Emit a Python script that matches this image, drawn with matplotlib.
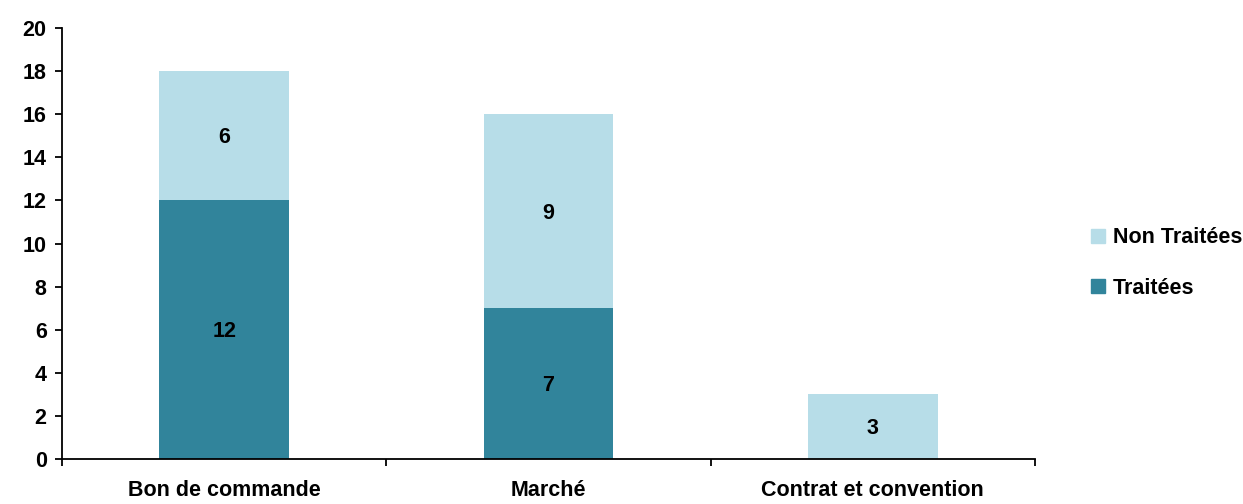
import numpy as np
import matplotlib.pyplot as plt
from matplotlib.patches import Patch

categories = ["Bon de commande", "Marché", "Contrat et convention"]
traitees = [12, 7, 0]
non_traitees = [6, 9, 3]
yticks = list(range(0, 21, 2))

c_dark = "#31849B"
c_light = "#B7DDE8"

plt.rcParams['font.family'] = ['Liberation Sans', 'DejaVu Sans']
plt.rcParams['font.weight'] = 'bold'
fs = 15.5

fig = plt.figure(figsize=(12.43, 5.04), dpi=100)
ax = fig.add_axes([62/1243, 1-459/504, (1035-62)/1243, (459-28)/504])

x = np.arange(len(categories))
w = 0.4
ax.bar(x, traitees, w, color=c_dark, label="Traitées")
ax.bar(x, non_traitees, w, bottom=traitees, color=c_light, label="Non Traitées")

# étiquettes de valeurs (léger décalage vers le bas comme dans Excel)
for i in range(len(categories)):
    if traitees[i] > 0:
        ax.text(x[i], traitees[i]/2 - 0.1, str(traitees[i]), ha="center", va="center",
                fontsize=fs, fontweight="bold")
    if non_traitees[i] > 0:
        ax.text(x[i], traitees[i] + non_traitees[i]/2 - 0.1, str(non_traitees[i]),
                ha="center", va="center", fontsize=fs, fontweight="bold")

ax.set_xlim(-0.5, 2.5)
ax.set_ylim(0, 20)
ax.set_yticks(yticks)
ax.set_yticklabels([str(v) for v in yticks], fontsize=fs, fontweight="bold")
ax.set_xticks(x)
ax.set_xticklabels(categories, fontsize=fs, fontweight="bold")
ax.set_xticks([-0.5, 0.5, 1.5, 2.5], minor=True)
ax.tick_params(axis="x", which="major", length=0, pad=15)
ax.tick_params(axis="x", which="minor", length=5, width=1.3, direction="out")
ax.tick_params(axis="y", length=5, width=1.3, direction="out", pad=6)

for s in ["top", "right"]:
    ax.spines[s].set_visible(False)
for s in ["left", "bottom"]:
    ax.spines[s].set_linewidth(1.3)

handles = [Patch(color=c_light, label="Non Traitées"), Patch(color=c_dark, label="Traitées")]
fig.legend(handles=handles, loc="center left", bbox_to_anchor=(1072/1243, 1-263/504),
           frameon=False, handlelength=0.65, handleheight=0.65,
           handletextpad=0.35, labelspacing=1.35, prop={"weight": "bold", "size": fs})

fig.savefig("out.png", dpi=100)
